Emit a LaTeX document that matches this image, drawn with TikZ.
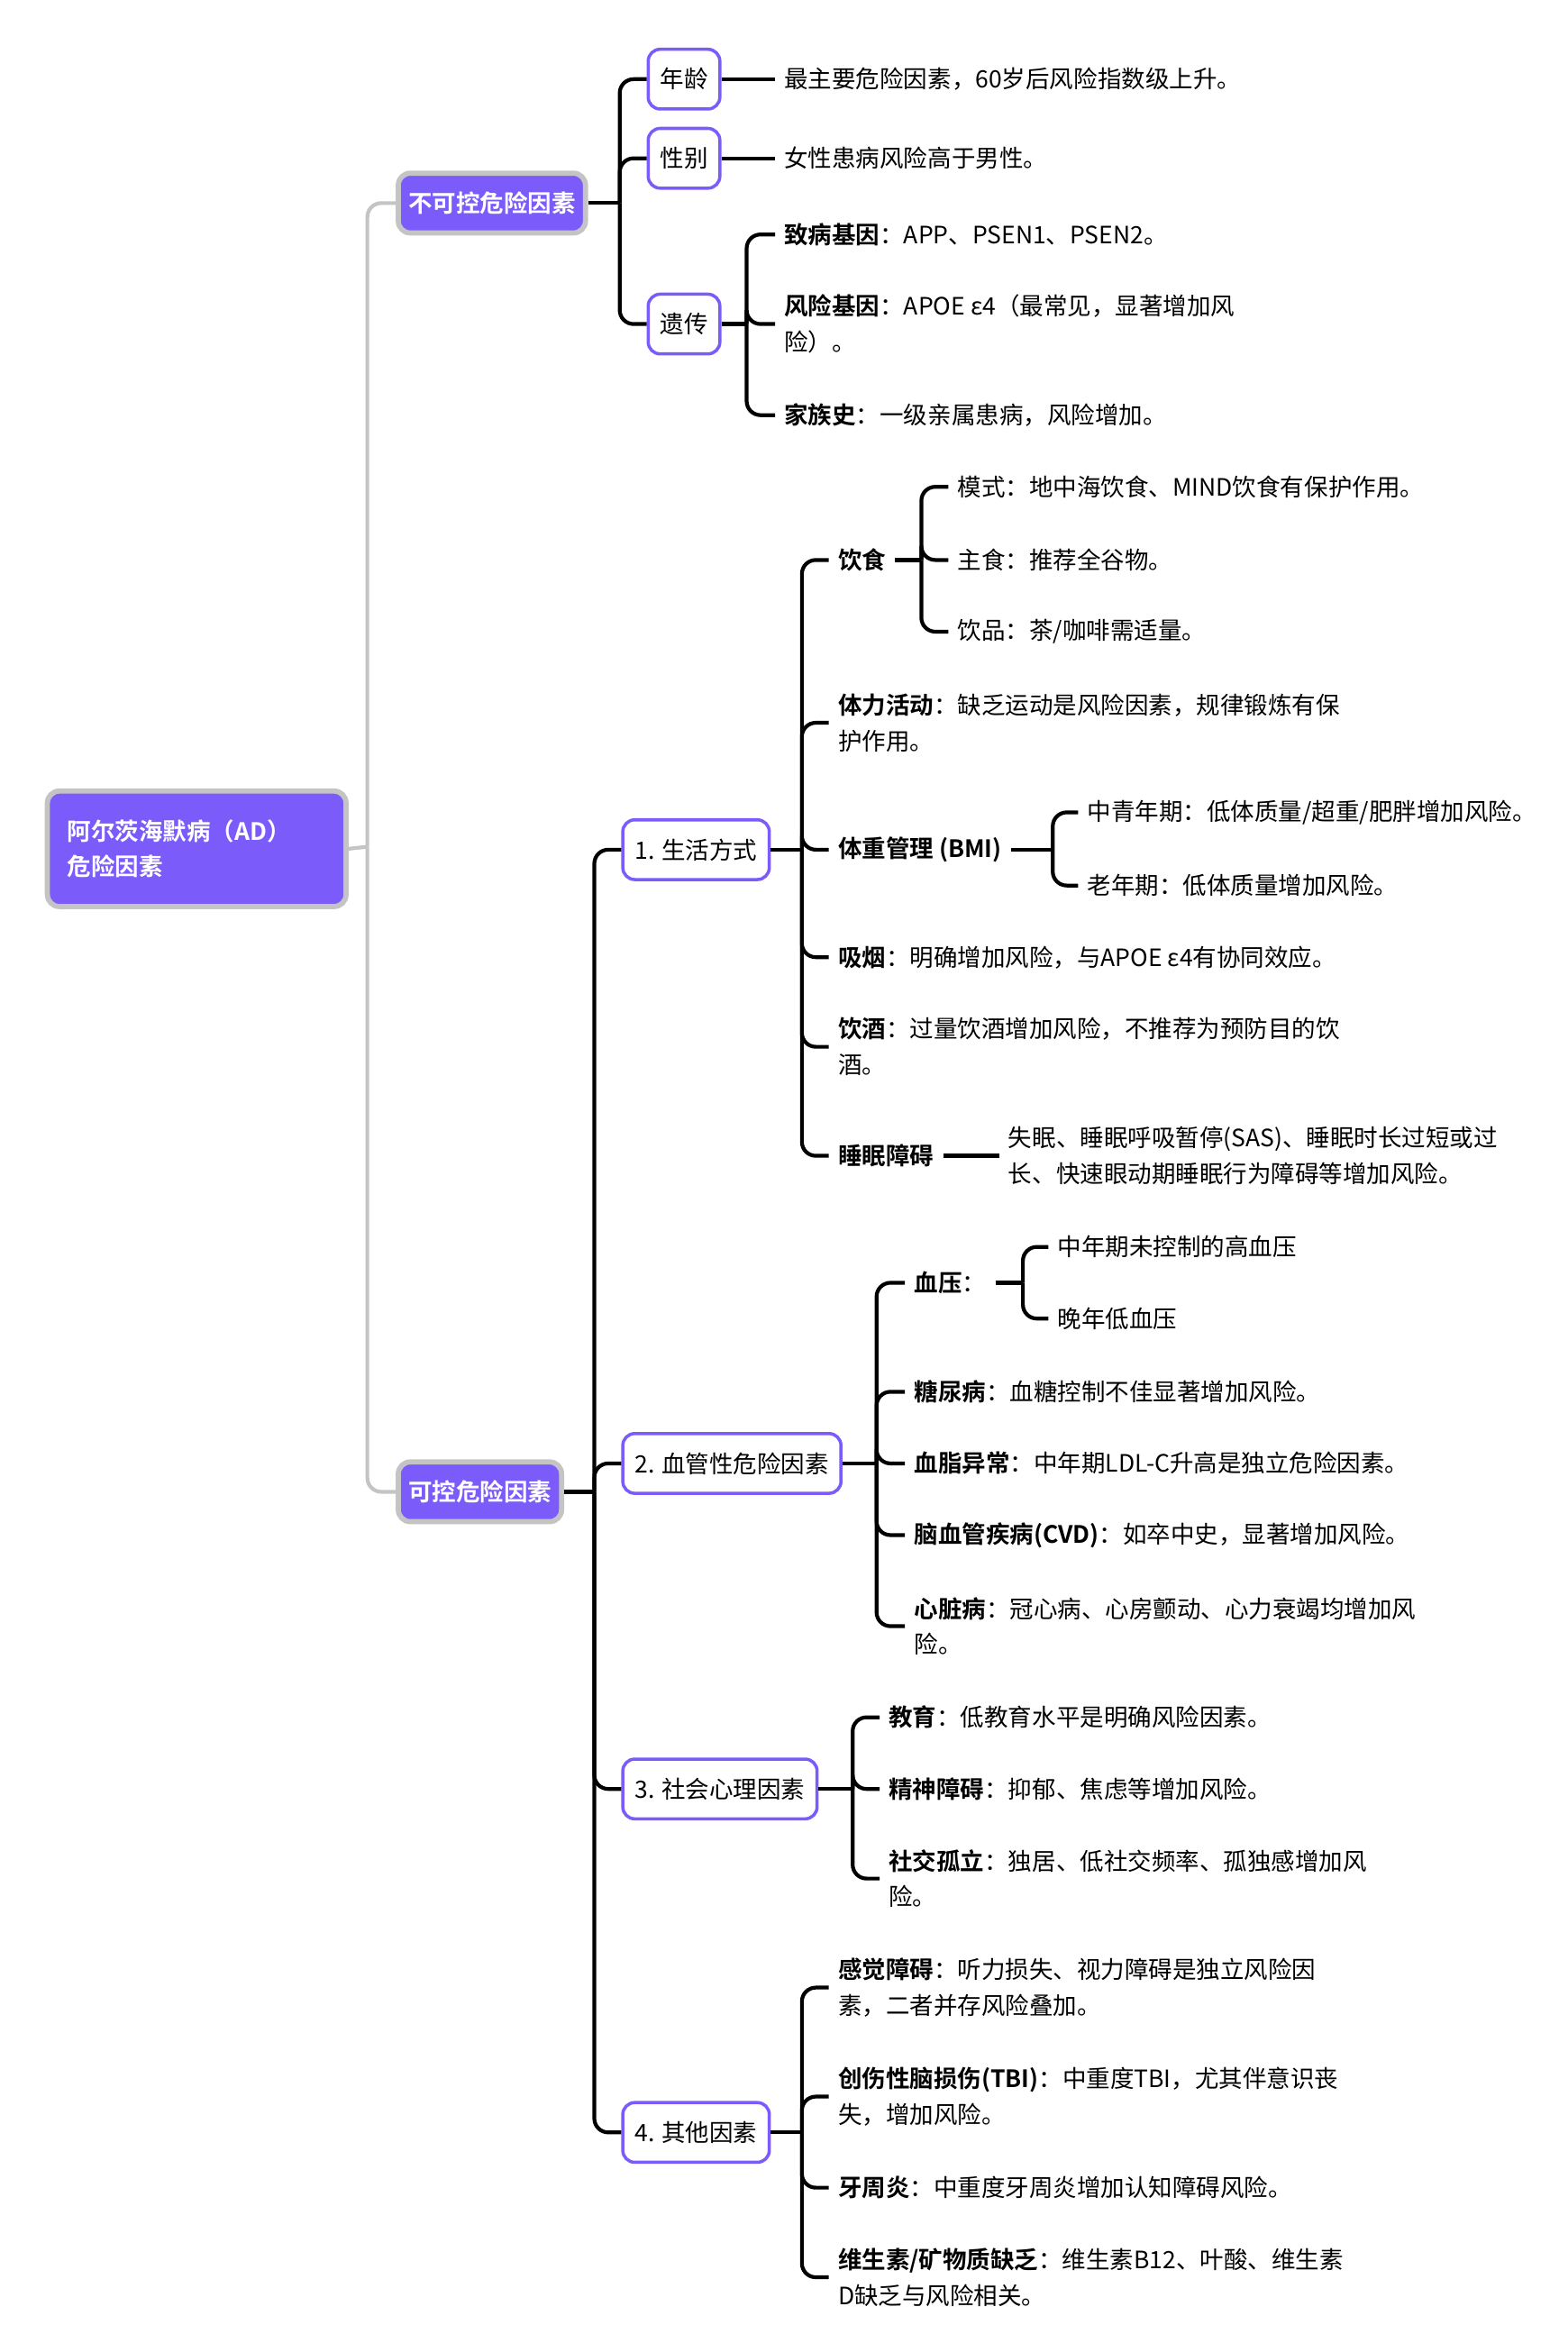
\documentclass[tikz,border=0pt]{standalone}
\usepackage{fontspec}
\setmainfont{Noto Sans CJK SC}[BoldFont={Noto Sans CJK SC Bold}]
\definecolor{pur}{HTML}{7B5CFA}
\definecolor{gr}{HTML}{C4C4C4}
\begin{document}
\begin{tikzpicture}[x=0.75pt,y=-0.75pt,
  font=\fontsize{12}{18}\selectfont,
  txt/.style={anchor=west,inner xsep=4.5pt,inner ysep=1pt,align=left},
  box/.style={draw=pur,line width=1.6pt,fill=white,rounded corners=6pt,minimum height=30pt,inner xsep=6pt},
  main/.style={draw=gr,line width=2.6pt,fill=pur,text=white,font=\fontsize{12}{18}\selectfont\bfseries,rounded corners=6pt,minimum height=30pt,inner xsep=5pt},
  br/.style={line width=1.9pt,rounded corners=7pt},
  gbr/.style={line width=1.9pt,draw=gr,rounded corners=7pt}]
\useasboundingbox (0,0) rectangle (1050,1563);
% root
\node[main,anchor=north west,minimum width=150pt,minimum height=58pt,align=left,text width=130pt] (root) at (30,528) {阿尔茨海默病（AD）\\危险因素};
\node[main,anchor=west] (u) at (265,136) {不可控危险因素};
\node[main,anchor=west] (c) at (265,999) {可控危险因素};
\draw[gbr] (root.east) -- (246,567);
\draw[gbr] (246,567) |- (u.west);
\draw[gbr] (246,567) |- (c.west);
% uncontrollable
\node[box,anchor=west] (age) at (433,53) {年龄};
\node[box,anchor=west] (sex) at (433,106) {性别};
\node[box,anchor=west] (gen) at (433,217) {遗传};
\draw[br] (u.east) -- (415,136);
\foreach \n in {age,sex,gen} \draw[br] (415,136) |- (\n.west);
\node[txt] (aget) at (519,53) {最主要危险因素，60岁后风险指数级上升。};
\node[txt] (sext) at (519,106) {女性患病风险高于男性。};
\draw[br] (age.east) -- (aget.west);
\draw[br] (sex.east) -- (sext.west);
\node[txt] (g1) at (519,157) {\textbf{致病基因}：APP、PSEN1、PSEN2。};
\node[txt] (g2) at (519,217) {\textbf{风险基因}：APOE ε4（最常见，显著增加风\\险）。};
\node[txt] (g3) at (519,278) {\textbf{家族史}：一级亲属患病，风险增加。};
\draw[br] (gen.east) -- (500,217);
\foreach \n in {g1,g2,g3} \draw[br] (500,217) |- (\n.west);
% controllable
\node[box,anchor=west] (l1) at (416,569) {1. 生活方式};
\node[box,anchor=west] (l2) at (416,980) {2. 血管性危险因素};
\node[box,anchor=west] (l3) at (416,1198) {3. 社会心理因素};
\node[box,anchor=west] (l4) at (416,1428) {4. 其他因素};
\draw[br] (c.east) -- (398,999);
\foreach \n in {l1,l2,l3,l4} \draw[br] (398,999) |- (\n.west);
% lifestyle
\node[txt] (d) at (555,375) {\textbf{饮食}};
\node[txt] (pa) at (555,484) {\textbf{体力活动}：缺乏运动是风险因素，规律锻炼有保\\护作用。};
\node[txt] (bmi) at (555,569) {\textbf{体重管理 (BMI)}};
\node[txt] (sm) at (555,641) {\textbf{吸烟}：明确增加风险，与APOE ε4有协同效应。};
\node[txt] (al) at (555,701) {\textbf{饮酒}：过量饮酒增加风险，不推荐为预防目的饮\\酒。};
\node[txt] (sl) at (555,774) {\textbf{睡眠障碍}};
\draw[br] (l1.east) -- (537,569);
\foreach \n in {d,pa,bmi,sm,al,sl} \draw[br] (537,569) |- (\n.west);
\node[txt] (d1) at (635,326) {模式：地中海饮食、MIND饮食有保护作用。};
\node[txt] (d2) at (635,375) {主食：推荐全谷物。};
\node[txt] (d3) at (635,423) {饮品：茶/咖啡需适量。};
\draw[br] (d.east) -- (617,375);
\foreach \n in {d1,d2,d3} \draw[br] (617,375) |- (\n.west);
\node[txt] (b1) at (722,544) {中青年期：低体质量/超重/肥胖增加风险。};
\node[txt] (b2) at (722,593) {老年期：低体质量增加风险。};
\draw[br] (bmi.east) -- (705,569);
\foreach \n in {b1,b2} \draw[br] (705,569) |- (\n.west);
\node[txt] (slt) at (669,774) {失眠、睡眠呼吸暂停(SAS)、睡眠时长过短或过\\长、快速眼动期睡眠行为障碍等增加风险。};
\draw[br] (sl.east) -- (slt.west);
% vascular
\node[txt] (v1) at (606,859) {\textbf{血压}：};
\node[txt] (v2) at (606,932) {\textbf{糖尿病}：血糖控制不佳显著增加风险。};
\node[txt] (v3) at (606,980) {\textbf{血脂异常}：中年期LDL-C升高是独立危险因素。};
\node[txt] (v4) at (606,1028) {\textbf{脑血管疾病(CVD)}：如卒中史，显著增加风险。};
\node[txt] (v5) at (606,1089) {\textbf{心脏病}：冠心病、心房颤动、心力衰竭均增加风\\险。};
\draw[br] (l2.east) -- (587,980);
\foreach \n in {v1,v2,v3,v4,v5} \draw[br] (587,980) |- (\n.west);
\node[txt] (p1) at (702,835) {中年期未控制的高血压};
\node[txt] (p2) at (702,883) {晚年低血压};
\draw[br] (v1.east) -- (685,859);
\foreach \n in {p1,p2} \draw[br] (685,859) |- (\n.west);
% psychosocial
\node[txt] (s1) at (589,1150) {\textbf{教育}：低教育水平是明确风险因素。};
\node[txt] (s2) at (589,1198) {\textbf{精神障碍}：抑郁、焦虑等增加风险。};
\node[txt] (s3) at (589,1258) {\textbf{社交孤立}：独居、低社交频率、孤独感增加风\\险。};
\draw[br] (l3.east) -- (571,1198);
\foreach \n in {s1,s2,s3} \draw[br] (571,1198) |- (\n.west);
% other
\node[txt] (o1) at (555,1331) {\textbf{感觉障碍}：听力损失、视力障碍是独立风险因\\素，二者并存风险叠加。};
\node[txt] (o2) at (555,1404) {\textbf{创伤性脑损伤(TBI)}：中重度TBI，尤其伴意识丧\\失，增加风险。};
\node[txt] (o3) at (555,1465) {\textbf{牙周炎}：中重度牙周炎增加认知障碍风险。};
\node[txt] (o4) at (555,1525) {\textbf{维生素/矿物质缺乏}：维生素B12、叶酸、维生素\\D缺乏与风险相关。};
\draw[br] (l4.east) -- (537,1428);
\foreach \n in {o1,o2,o3,o4} \draw[br] (537,1428) |- (\n.west);
\end{tikzpicture}
\end{document}
